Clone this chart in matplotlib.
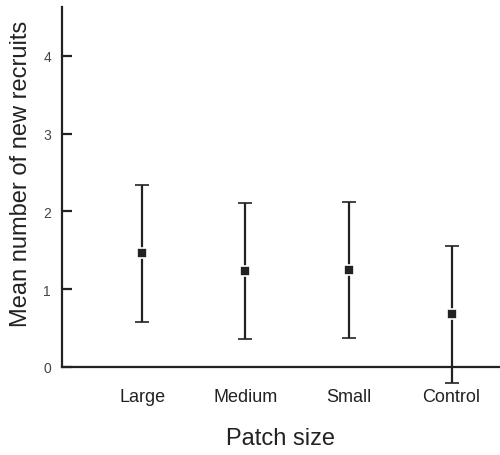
import numpy as np
import matplotlib
matplotlib.use("Agg")
import matplotlib.pyplot as plt

# Data
categories = ["Large", "Medium", "Small", "Control"]
means = [1.46, 1.23, 1.25, 0.68]
upper = [2.34, 2.11, 2.12, 1.56]
lower = [0.58, 0.36, 0.37, -0.20]
yticks = [0, 1, 2, 3, 4]

plt.rcParams['font.family'] = ['Liberation Sans', 'DejaVu Sans']
ink = '#222222'

fig = plt.figure(figsize=(5.0, 4.56), dpi=100)
ax = fig.add_axes([62/500, 88/456, 438/500, 360/456])

x = np.arange(1, len(categories) + 1)
m = np.array(means)
err = [m - np.array(lower), np.array(upper) - m]
ax.errorbar(x, m, yerr=err, fmt='s', color=ink, ecolor=ink, elinewidth=1.6,
            capsize=5, capthick=1.6, markersize=6.5, markeredgecolor='white',
            markeredgewidth=1.2, clip_on=False, zorder=3)

ax.set_xlim(0.22, 4.47)
ax.set_ylim(0, 4.63)
ax.set_xticks(x)
ax.set_xticklabels(categories, fontsize=13, color=ink)
ax.set_yticks(yticks)
ax.set_yticklabels([str(v) for v in yticks], fontsize=10, color='#444444')

ax.spines['top'].set_visible(False)
ax.spines['right'].set_visible(False)
for s in ['left', 'bottom']:
    ax.spines[s].set_linewidth(1.6)
    ax.spines[s].set_color(ink)

ax.tick_params(axis='y', direction='in', length=7, width=1.6, color=ink, pad=8)
ax.tick_params(axis='x', length=0, pad=15)

ax.set_xlabel("Patch size", fontsize=17, color=ink, labelpad=16)
ax.set_ylabel("Mean number of new recruits", fontsize=17, color=ink)
ax.yaxis.set_label_coords(-0.068, 0.54)

fig.savefig("out.png", dpi=100)
